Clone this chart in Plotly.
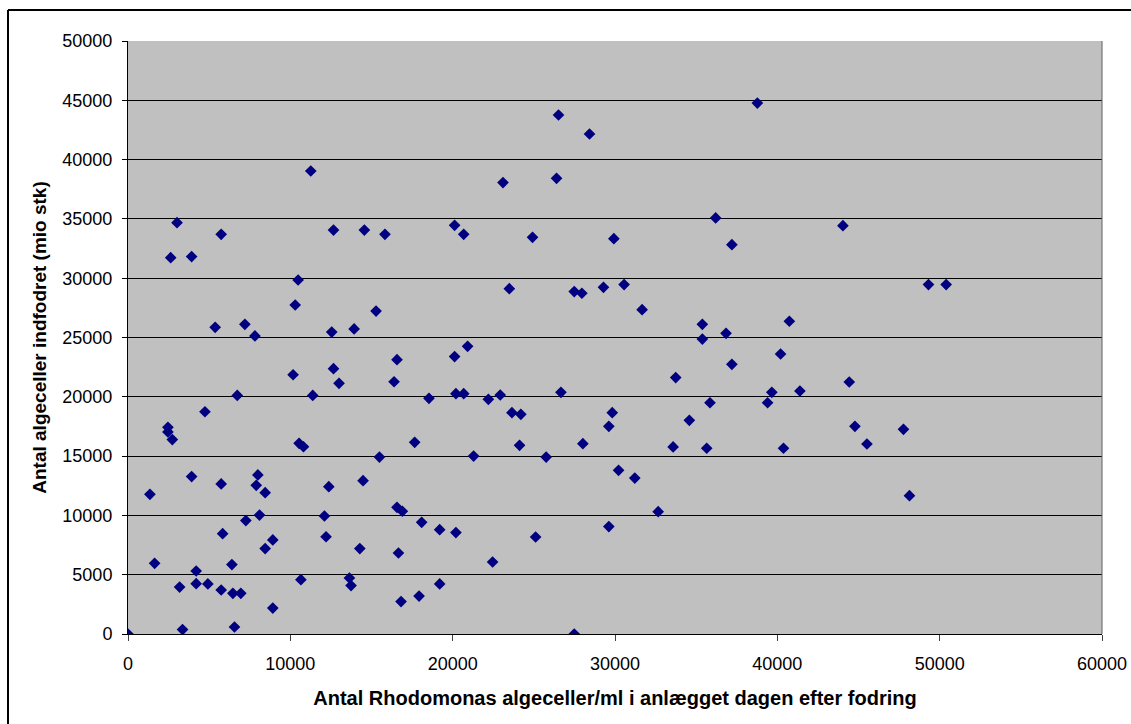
import plotly.graph_objects as go

# Antal Rhodomonas algeceller/ml (x) vs antal algeceller indfodret (mio stk) (y)
rhodomonas_per_ml = [
    0, 1350, 1640, 2460, 2460, 2730, 2630, 3020, 3180, 3360,
    3920, 3920, 4200, 4200, 4740, 4920, 5370, 5740, 5740, 5740,
    5830, 6400, 6460, 6560, 6730, 6950, 7200, 7260, 7820, 7900,
    8000, 8100, 8450, 8450, 8920, 8920, 10170, 10300, 10480, 10540,
    10650, 10810, 11260, 11380, 12100, 12200, 12370, 12550, 12660, 12660,
    13000, 13640, 13740, 13930, 14280, 14480, 14560, 15280, 15490, 15830,
    16390, 16570, 16570, 16660, 16820, 16900, 17660, 17930, 18090, 18540,
    19200, 19200, 20120, 20120, 20200, 20200, 20680, 20680, 20920, 21290,
    22200, 22460, 22930, 23100, 23490, 23650, 24120, 24200, 24920, 25110,
    25760, 26400, 26520, 26670, 27490, 27490, 27960, 28020, 28430, 29290,
    29620, 29620, 29830, 29930, 30220, 30560, 31220, 31670, 32660, 33580,
    33740, 34580, 35380, 35380, 35650, 35850, 36200, 36840, 37200, 37200,
    38770, 39400, 39660, 40200, 40380, 40740, 41390, 44040, 44430, 44780,
    45520, 47770, 48140, 49310, 50400,
]
algeceller_indfodret = [
    0, 11780, 5960, 17430, 17030, 16390, 31730, 34680, 3960, 370,
    31820, 13270, 5310, 4240, 18740, 4220, 25860, 33700, 12650, 3710,
    8460, 5850, 3430, 590, 20120, 3430, 26110, 9560, 25130, 12540,
    13410, 10030, 11920, 7200, 7930, 2190, 21860, 27740, 29850, 16080,
    4580, 15790, 39040, 20120, 9950, 8200, 12420, 25460, 34060, 22370,
    21140, 4720, 4080, 25720, 7200, 12930, 34060, 27230, 14920, 33700,
    21270, 23130, 10680, 6830, 2730, 10350, 16160, 3200, 9420, 19870,
    8800, 4220, 34460, 23390, 20260, 8550, 33700, 20260, 24260, 15000,
    19790, 6070, 20150, 38060, 29120, 18660, 15910, 18520, 33450, 8180,
    14920, 38420, 43760, 20380, 28870, 0, 28730, 16050, 42160, 29230,
    17510, 9060, 18660, 33330, 13800, 29460, 13150, 27350, 10310, 15770,
    21620, 18020, 26110, 24870, 15660, 19500, 35080, 25350, 32830, 22740,
    44770, 19500, 20380, 23610, 15660, 26370, 20490, 34430, 21250, 17510,
    16020, 17260, 11660, 29460, 29460,
]

x_title = "Antal Rhodomonas algeceller/ml i anlægget dagen efter fodring"
y_title = "Antal algeceller indfodret (mio stk)"

FONT = "Liberation Sans, Arial, sans-serif"

W, H = 1131, 724
L, R, T, B = 128, 29, 41, 90
pw, ph = W - L - R, H - T - B

fig = go.Figure()
fig.add_trace(go.Scatter(
    x=rhodomonas_per_ml,
    y=algeceller_indfodret,
    mode="markers",
    marker=dict(symbol="diamond", size=9, color="#000080",
                line=dict(width=0)),
    showlegend=False,
    hoverinfo="x+y",
))

fig.update_layout(
    width=W, height=H, autosize=False,
    margin=dict(l=L, r=R, t=T, b=B, autoexpand=False),
    paper_bgcolor="white",
    plot_bgcolor="#C0C0C0",
    font=dict(family=FONT, size=18, color="black"),
    xaxis=dict(
        range=[0, 60000], dtick=10000, tick0=0, tickformat="d",
        automargin=False, ticklabeloverflow="allow",
        showgrid=False, zeroline=False,
        showline=True, linecolor="black", linewidth=1, mirror=False,
        ticks="outside", ticklen=6, tickcolor="#404040",
        ticklabelstandoff=7,
        tickfont=dict(size=18),
        title=dict(text="<b>" + x_title + "</b>", font=dict(size=20), standoff=18),
    ),
    yaxis=dict(
        range=[0, 50000], dtick=5000, tick0=0, tickformat="d",
        automargin=False,
        showgrid=True, gridcolor="black", gridwidth=1,
        zeroline=False,
        showline=True, linecolor="black", linewidth=1, mirror=False,
        ticks="outside", ticklen=5, tickcolor="black",
        ticklabelstandoff=6,
        tickfont=dict(size=18),
        title=dict(text="<b>" + y_title + "</b>", font=dict(size=19), standoff=10),
    ),
    shapes=[
        # right edge of plot area
        dict(type="line", xref="x domain", yref="y domain", x0=1, x1=1, y0=0, y1=1,
             line=dict(color="#606060", width=1)),
        # outer chart frame: left and top edges (right/bottom lie outside the view)
        dict(type="line", xref="paper", yref="paper",
             x0=(8 - L) / pw, x1=(8 - L) / pw,
             y0=-B / ph, y1=1 + (T - 10) / ph,
             line=dict(color="black", width=2)),
        dict(type="line", xref="paper", yref="paper",
             x0=(8 - L) / pw, x1=1 + R / pw,
             y0=1 + (T - 10) / ph, y1=1 + (T - 10) / ph,
             line=dict(color="black", width=2)),
    ],
)

fig.write_html(
    "out.html",
    config={"responsive": False, "displayModeBar": False},
    post_script="document.body.style.margin='0';document.body.style.overflow='hidden';",
)
